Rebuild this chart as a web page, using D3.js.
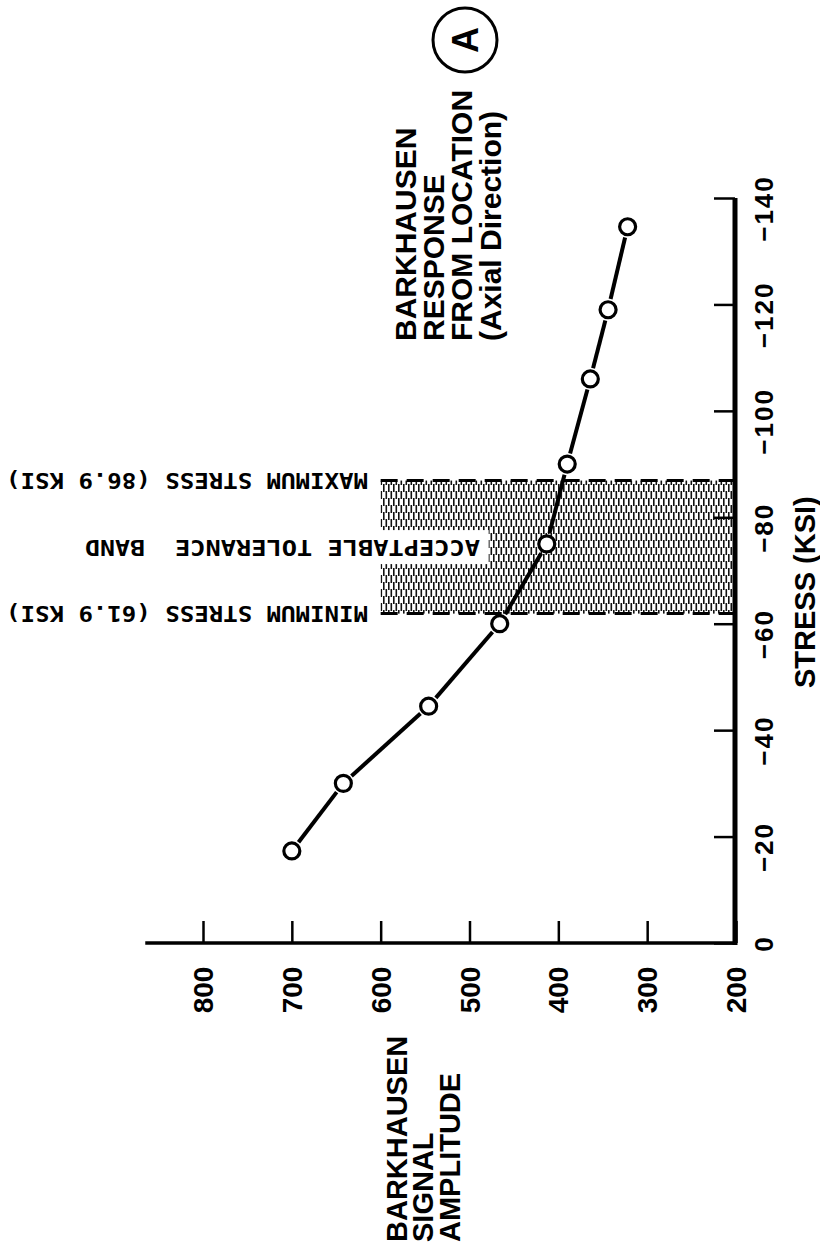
<!DOCTYPE html>
<html>
<head>
<meta charset="utf-8">
<script src="https://cdn.jsdelivr.net/npm/d3@7"></script>
<style>
  body { margin: 0; background: #fff; }
  svg { display: block; }
</style>
</head>
<body>
<svg id="chart" width="820" height="1249"></svg>
<script>
// values (stress in KSI, Barkhausen amplitude)
var stress = [-17.3, -30, -44.5, -60, -75, -90, -106, -119, -134.6]
var amplitude = [700, 642, 546, 466, 413, 390, 364, 344, 322]

var stressTicks = [0, -20, -40, -60, -80, -100, -120, -140]
var ampTicks = [200, 300, 400, 500, 600, 700, 800]

var bandStress = [-61.9, -86.9]
var bandAmp = [200, 600]
var bandLabels = ['MINIMUM STRESS (61.9 KSI)', 'MAXIMUM STRESS (86.9 KSI)']

var titleLines = ['BARKHAUSEN', 'RESPONSE', 'FROM LOCATION', '(Axial Direction)']
var ampTitle = ['BARKHAUSEN', 'SIGNAL', 'AMPLITUDE']

var svg = d3.select('#chart')
svg.append('rect').attr('width', 820).attr('height', 1249).attr('fill', '#fff')

// the figure is printed turned on its side: stress runs up the page, amplitude runs leftwards
var y = d3.scaleLinear().domain([0, -140]).range([943, 198])
var x = d3.scaleLinear().domain([200, 800]).range([736, 203])

var font = 'Liberation Sans, Arial, Helvetica, sans-serif'
var mono = 'DejaVu Sans Mono, Liberation Mono, monospace'

// hatch for the tolerance band
var defs = svg.append('defs')
var pat = defs.append('pattern')
  .attr('id', 'hatch')
  .attr('patternUnits', 'userSpaceOnUse')
  .attr('width', 5)
  .attr('height', 14)
pat.append('rect').attr('x', 0.5).attr('y', 1).attr('width', 1.6).attr('height', 8).attr('fill', '#111')
pat.append('rect').attr('x', 3).attr('y', 8).attr('width', 1.6).attr('height', 8).attr('fill', '#111')
pat.append('rect').attr('x', 3).attr('y', -6).attr('width', 1.6).attr('height', 8).attr('fill', '#111')

var g = svg.append('g')

// tolerance band
g.append('rect')
  .attr('x', x(bandAmp[1]))
  .attr('y', y(bandStress[1]))
  .attr('width', x(bandAmp[0]) - x(bandAmp[1]))
  .attr('height', y(bandStress[0]) - y(bandStress[1]))
  .attr('fill', 'url(#hatch)')

g.selectAll('.band-edge')
  .data(bandStress)
  .enter().append('line')
  .attr('class', 'band-edge')
  .attr('x1', x(bandAmp[1]))
  .attr('x2', x(bandAmp[0]))
  .attr('y1', function (d) { return y(d) })
  .attr('y2', function (d) { return y(d) })
  .attr('stroke', '#000')
  .attr('stroke-width', 3)
  .attr('stroke-dasharray', '17,9')

// white patch where the middle label runs into the band
var midY = (y(bandStress[0]) + y(bandStress[1])) / 2
g.append('rect')
  .attr('x', x(bandAmp[1]) - 2)
  .attr('y', midY - 17)
  .attr('width', 110)
  .attr('height', 34)
  .attr('fill', '#fff')

// band labels, printed upside down
g.selectAll('.band-label')
  .data(bandStress)
  .enter().append('text')
  .attr('class', 'band-label')
  .attr('transform', function (d) { return 'translate(368,' + y(d) + ') rotate(180)' })
  .attr('dominant-baseline', 'central')
  .attr('font-family', mono)
  .attr('font-weight', 'bold')
  .attr('font-size', 22)
  .attr('textLength', 362)
  .attr('lengthAdjust', 'spacingAndGlyphs')
  .text(function (d, i) { return bandLabels[i] })

g.append('text')
  .attr('transform', 'translate(480,' + midY + ') rotate(180)')
  .attr('dominant-baseline', 'central')
  .attr('font-family', mono)
  .attr('font-weight', 'bold')
  .attr('font-size', 22)
  .attr('textLength', 305)
  .attr('lengthAdjust', 'spacingAndGlyphs')
  .text('ACCEPTABLE TOLERANCE')

g.append('text')
  .attr('transform', 'translate(145,' + midY + ') rotate(180)')
  .attr('dominant-baseline', 'central')
  .attr('font-family', mono)
  .attr('font-weight', 'bold')
  .attr('font-size', 22)
  .attr('textLength', 60)
  .attr('lengthAdjust', 'spacingAndGlyphs')
  .text('BAND')

// stress axis (vertical on the page)
var sAxis = g.append('g')
  .attr('transform', 'translate(735,0)')
  .call(d3.axisRight(y).tickValues(stressTicks).tickSize(0)
    .tickFormat(function (d) { return d === 0 ? '0' : '\u2212' + Math.abs(d) }))
sAxis.select('.domain').remove()
sAxis.selectAll('.tick line')
  .attr('x2', -21)
  .attr('stroke', '#000')
  .attr('stroke-width', 2.5)
sAxis.selectAll('.tick text')
  .attr('x', null).attr('y', null).attr('dy', null)
  .attr('transform', function (d) { return 'translate(29,' + (d < 0 ? 10 : 0) + ') rotate(-90)' })
  .attr('text-anchor', 'middle')
  .attr('dominant-baseline', 'central')
  .attr('font-family', font)
  .attr('font-weight', 'bold')
  .attr('font-size', 26)
  .attr('letter-spacing', 2)
  .attr('fill', '#000')

g.append('line')
  .attr('x1', 735).attr('x2', 735)
  .attr('y1', y(0) + 2).attr('y2', y(-140))
  .attr('stroke', '#000')
  .attr('stroke-width', 5)

// amplitude axis (horizontal on the page)
var aAxis = g.append('g')
  .attr('transform', 'translate(0,943)')
  .call(d3.axisBottom(x).tickValues(ampTicks).tickSize(0))
aAxis.select('.domain').remove()
aAxis.selectAll('.tick line')
  .attr('y2', -22)
  .attr('stroke', '#000')
  .attr('stroke-width', 2.5)
aAxis.selectAll('.tick text')
  .attr('x', null).attr('y', null).attr('dy', null)
  .attr('transform', 'translate(0,47) rotate(-90)')
  .attr('text-anchor', 'middle')
  .attr('dominant-baseline', 'central')
  .attr('font-family', font)
  .attr('font-weight', 'bold')
  .attr('font-size', 28)
  .attr('fill', '#000')

g.append('line')
  .attr('x1', x(200)).attr('x2', x(865))
  .attr('y1', 943).attr('y2', 943)
  .attr('stroke', '#000')
  .attr('stroke-width', 3.5)

// data line, segments stop short of the open circles
var pts = stress.map(function (s, i) { return [x(amplitude[i]), y(s)] })
var gap = 11
for (var i = 0; i < pts.length - 1; i++) {
  var a = pts[i], b = pts[i + 1]
  var dx = b[0] - a[0], dy = b[1] - a[1]
  var len = Math.sqrt(dx * dx + dy * dy)
  var ux = dx / len, uy = dy / len
  g.append('line')
    .attr('x1', a[0] + ux * gap).attr('y1', a[1] + uy * gap)
    .attr('x2', b[0] - ux * gap).attr('y2', b[1] - uy * gap)
    .attr('stroke', '#000')
    .attr('stroke-width', 4)
}

g.selectAll('.pt')
  .data(stress)
  .enter().append('circle')
  .attr('class', 'pt')
  .attr('cx', function (d, i) { return x(amplitude[i]) })
  .attr('cy', function (d) { return y(d) })
  .attr('r', 8)
  .attr('fill', '#fff')
  .attr('stroke', '#000')
  .attr('stroke-width', 3.2)

// chart title, turned like the rest of the figure
var titleBase = [416, 444, 472, 501]
g.selectAll('.title')
  .data(titleLines)
  .enter().append('text')
  .attr('class', 'title')
  .attr('transform', function (d, i) { return 'translate(' + titleBase[i] + ',341) rotate(-90)' })
  .attr('font-family', font)
  .attr('font-weight', 'bold')
  .attr('font-size', 30)
  .text(function (d) { return d })

g.append('circle')
  .attr('cx', 465).attr('cy', 40).attr('r', 32)
  .attr('fill', 'none')
  .attr('stroke', '#000')
  .attr('stroke-width', 3)
g.append('text')
  .attr('transform', 'translate(465,40) rotate(-90)')
  .attr('text-anchor', 'middle')
  .attr('dominant-baseline', 'central')
  .attr('font-family', font)
  .attr('font-weight', 'bold')
  .attr('font-size', 36)
  .text('A')

// axis titles
g.append('text')
  .attr('transform', 'translate(815,688) rotate(-90)')
  .attr('font-family', font)
  .attr('font-weight', 'bold')
  .attr('font-size', 29)
  .text('STRESS (KSI)')

var ampBase = [407, 433, 460]
g.selectAll('.amp-title')
  .data(ampTitle)
  .enter().append('text')
  .attr('class', 'amp-title')
  .attr('transform', function (d, i) { return 'translate(' + ampBase[i] + ',1242) rotate(-90)' })
  .attr('font-family', font)
  .attr('font-weight', 'bold')
  .attr('font-size', 29)
  .text(function (d) { return d })
</script>
</body>
</html>
